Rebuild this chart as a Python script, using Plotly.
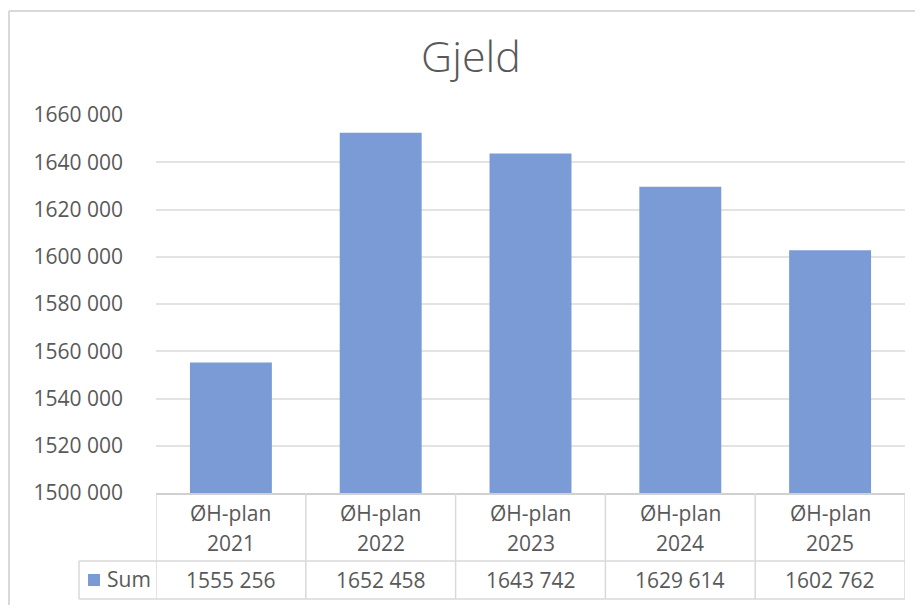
import plotly.graph_objects as go

# ---- data ----
categories = ["ØH-plan 2021", "ØH-plan 2022", "ØH-plan 2023", "ØH-plan 2024", "ØH-plan 2025"]
values = [1555256, 1652458, 1643742, 1629614, 1602762]
series_name = "Sum"
title_text = "Gjeld"
y_tick_vals = [1500000, 1520000, 1540000, 1560000, 1580000, 1600000, 1620000, 1640000, 1660000]
y_tick_text = ["1500 000", "1520 000", "1540 000", "1560 000", "1580 000",
               "1600 000", "1620 000", "1640 000", "1660 000"]
value_labels = ["1555 256", "1652 458", "1643 742", "1629 614", "1602 762"]

# ---- style ----
OFF = 8  # page body margin
W, H = 923 - OFF, 605 - OFF
L, R, T, B = 156 - OFF, 18, 115 - OFF, 112
PW, PH = W - L - R, H - T - B
BAR = "#7A9BD5"
TXT = "#595959"
GRID = "#e3e3e3"
LINE = "#d9d9d9"
FONT = "Open Sans"
FS = 21


def px(xp):
    return (xp - OFF - L) / PW


def py(yp):
    return (H - B - (yp - OFF)) / PH


fig = go.Figure()
fig.add_trace(go.Bar(
    x=categories, y=values, name=series_name,
    marker=dict(color=BAR, line=dict(width=0)),
    hoverinfo="skip", showlegend=False,
))

shapes = []
annotations = []

# chart outer border (Excel chart area)
shapes.append(dict(type="line", xref="paper", yref="paper", x0=px(9), x1=px(940), y0=py(11), y1=py(11),
                   line=dict(color=LINE, width=2), layer="below"))
shapes.append(dict(type="line", xref="paper", yref="paper", x0=px(9), x1=px(9), y0=py(11), y1=py(640),
                   line=dict(color=LINE, width=2), layer="below"))

# data table
row1 = py(561)
row2 = py(599)
left_col = px(79)
shapes.append(dict(type="line", xref="paper", yref="paper", x0=left_col, x1=1, y0=row1, y1=row1,
                   line=dict(color=LINE, width=1.5)))
shapes.append(dict(type="line", xref="paper", yref="paper", x0=left_col, x1=1, y0=row2, y1=row2,
                   line=dict(color=LINE, width=1.5)))
shapes.append(dict(type="line", xref="paper", yref="paper", x0=left_col, x1=left_col, y0=row1, y1=row2,
                   line=dict(color=LINE, width=1.5)))
for i in range(len(categories) + 1):
    shapes.append(dict(type="line", xref="x", yref="paper", x0=i - 0.5, x1=i - 0.5, y0=0, y1=row2,
                       line=dict(color=LINE, width=1.5)))

for i, (cat, lab) in enumerate(zip(categories, value_labels)):
    first, second = cat.rsplit(" ", 1)
    annotations.append(dict(x=i, y=py(513), xref="x", yref="paper", text=first, showarrow=False,
                            font=dict(family=FONT, size=FS, color=TXT), yanchor="middle"))
    annotations.append(dict(x=i, y=py(543), xref="x", yref="paper", text=second, showarrow=False,
                            font=dict(family=FONT, size=FS, color=TXT), yanchor="middle"))
    annotations.append(dict(x=i, y=py(580), xref="x", yref="paper", text=lab, showarrow=False,
                            font=dict(family=FONT, size=FS, color=TXT), yanchor="middle"))

# legend key in table
shapes.append(dict(type="rect", xref="paper", yref="paper", x0=px(88), x1=px(100), y0=py(586), y1=py(574),
                   fillcolor=BAR, line=dict(width=0)))
annotations.append(dict(x=px(105), y=py(579), xref="paper", yref="paper", text=series_name, showarrow=False,
                        xanchor="left", yanchor="middle", font=dict(family=FONT, size=FS, color=TXT)))

fig.update_layout(
    width=W, height=H,
    margin=dict(l=L, r=R, t=T, b=B, pad=0),
    paper_bgcolor="white", plot_bgcolor="white",
    title=dict(text=title_text, x=(471 - OFF) / W, xref="container", xanchor="center",
               y=1 - (57 - OFF) / H, yref="container", yanchor="middle",
               font=dict(family=FONT, size=43, color=TXT, weight=300)),
    bargap=0.453,
    shapes=shapes,
    annotations=annotations,
    xaxis=dict(type="category", range=[-0.5, len(categories) - 0.5], showticklabels=False,
               showgrid=False, showline=True, linecolor="#d0d0d0", linewidth=1.5, zeroline=False, ticks=""),
    yaxis=dict(range=[1500000, 1660000], tickvals=y_tick_vals, ticktext=y_tick_text,
               showgrid=True, gridcolor=GRID, gridwidth=1.5, zeroline=False, showline=False,
               ticks="", ticklabelstandoff=32,
               tickfont=dict(family=FONT, size=FS, color=TXT)),
    font=dict(family=FONT, color=TXT),
)

fig.write_html("out.html")
